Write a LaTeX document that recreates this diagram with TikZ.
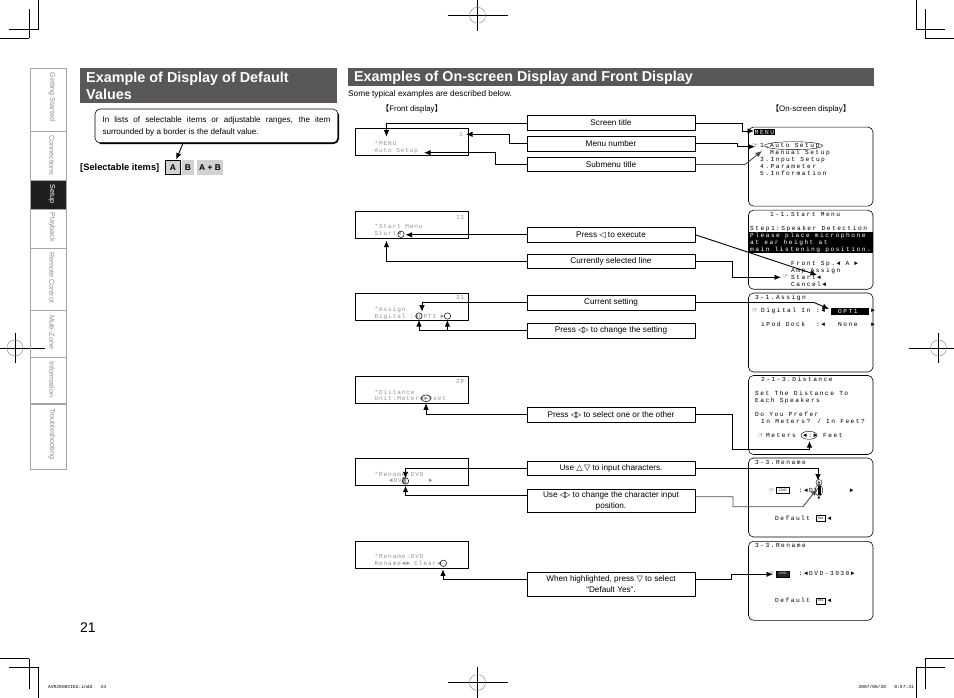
\documentclass[tikz,border=0pt]{standalone}
\usepackage{fontspec}
\setmainfont{Liberation Sans}
\newfontfamily\scrfam[LetterSpace=24]{Liberation Mono}
\newfontfamily\frontfam[LetterSpace=14]{Liberation Mono}
\newfontfamily\plainfam{Liberation Mono}
\newfontfamily\symfam{DejaVu Sans}
\newfontfamily\cjkfam{Noto Sans CJK JP}
\usetikzlibrary{positioning,calc,arrows.meta}
\definecolor{titlegray}{HTML}{595757}
\definecolor{tabgray}{HTML}{A5A5A5}
\definecolor{tabtext}{HTML}{8C8C8C}
\definecolor{itemgray}{HTML}{D2D2D2}
\newcommand{\scrfont}{\scrfam\fontsize{6.2}{6.5}\selectfont}
\newcommand{\frontfont}{\frontfam\fontsize{6.1}{6.5}\selectfont}
\newcommand{\triL}{{\symfam ◁}}
\newcommand{\triLR}{{\symfam ◁\kern-.25em▷}}
\newcommand{\hand}{{\symfam\bfseries ☞}}
\tikzset{
  callbox/.style={draw,line width=.8pt,minimum width=168pt,align=center,inner sep=0pt,font=\fontsize{8.2}{11}\selectfont},
  dispbox/.style={draw,line width=.8pt,minimum width=113.5pt,minimum height=27pt,inner sep=0pt},
  screenbox/.style={draw,line width=.6pt,rounded corners=5pt,minimum width=124.5pt,minimum height=79pt,inner sep=0pt},
  scrtxt/.style={anchor=west,inner sep=0pt,font=\scrfont,text height=4pt,text depth=0pt},
  fronttxt/.style={anchor=west,inner sep=0pt,font=\frontfont,text=gray!85,text height=4pt,text depth=0pt},
  conn/.style={line width=.9pt,-{Latex[length=6.5pt,width=5.5pt]}},
  crop/.style={line width=.8pt},
  cropthin/.style={line width=.4pt},
  ring/.style={line width=.4pt,draw=gray},
  itembox/.style={fill=itemgray,inner sep=0pt,minimum height=14.7pt,font=\bfseries\fontsize{8.4}{9}\selectfont},
  tabtxt/.style={rotate=-90,anchor=west,inner sep=0pt,font=\fontsize{7.2}{8}\selectfont},
  tagbox/.style={draw,line width=.4pt,inner sep=0pt,minimum width=13pt,minimum height=6pt,font=\fontsize{3.5}{4}\selectfont}
}
\begin{document}
\begin{tikzpicture}[x=1pt,y=-1pt]
    \useasboundingbox (0,0) rectangle (954,698);
    % crop marks
    \draw[crop] (38,0) -- (38,29.3) -- (9,29.3);
    \draw[cropthin] (29,9) -- (29,38.3);
    \draw[crop] (0,38.3) -- (29,38.3);
    \draw[crop] (916,0) -- (916,29.3) -- (945,29.3);
    \draw[cropthin] (925,9) -- (925,38.3);
    \draw[crop] (925,38.3) -- (954,38.3);
    \draw[crop] (0,658.7) -- (29,658.7);
    \draw[cropthin] (29,658.7) -- (29,688.7);
    \draw[crop] (9,667.7) -- (38,667.7) -- (38,698);
    \draw[crop] (925,658.7) -- (954,658.7);
    \draw[cropthin] (925,658.7) -- (925,688.7);
    \draw[crop] (945,667.7) -- (916,667.7) -- (916,698);
    \foreach \x/\y in {477.5/15.3,477.5/682.5,15/348,938.5/348}{
        \draw[crop] (\x-30,\y) -- (\x+30,\y);
        \draw[crop] (\x,\y-15.3) -- (\x,\y+15.3);
        \draw[ring] (\x,\y) circle (8);
    }
    \node[anchor=west,inner sep=0pt,font=\plainfam\fontsize{4.6}{5}\selectfont] (fileinfo) at (48,687) {AVR2808CIEU.indd\ \ \ 24};
    \node[anchor=east,inner sep=0pt,font=\plainfam\fontsize{4.6}{5}\selectfont] (dateinfo) at (914,687) {2007/06/20\ \ \ 8:57:41};

    % side tabs
    \fill[black!88] (30,180) rectangle (66,209);
    \draw[tabgray,line width=.8pt] (30,68) rectangle (66,469);
    \foreach \y in {131,180,209,248,310,357}{
        \draw[tabgray,line width=.8pt] (30,\y) -- (66,\y);
    }
    \draw[tabgray,line width=1.6pt] (30,404) -- (66,404);
    \foreach \n/\y/\t in {a/72.5/Getting Started,b/135/Connections,d/212.5/Playback,e/252/Remote Control,f/315/Multi-Zone,g/361/Information,h/408/Troubleshooting}{
        \node[tabtxt,text=tabtext] (tab\n) at (52,\y) {\t};
    }
    \node[tabtxt,text=white] (tabc) at (52,184) {Setup};

    % titles
    \fill[titlegray] (80,68) rectangle (337,103);
    \fill[titlegray] (348,68) rectangle (874,86);
    \node[anchor=north west,inner sep=0pt,text=white,align=left,font=\bfseries\fontsize{14.4}{17}\selectfont] (titleL) at (86,71.5) {Example of Display of Default\\Values};
    \node[anchor=west,inner sep=0pt,text=white,font=\bfseries\fontsize{14.3}{17}\selectfont] (titleR) at (354,77.5) {Examples of On-screen Display and Front Display};
    \node[anchor=west,inner sep=0pt,font=\fontsize{8.3}{9}\selectfont] (intro) at (348,94.5) {Some typical examples are described below.};
    \node[inner sep=0pt,font=\fontsize{7.9}{9}\selectfont] (headF) at (412,109) {{\cjkfam【}Front display{\cjkfam】}};
    \node[inner sep=0pt,font=\fontsize{7.9}{9}\selectfont] (headS) at (811,109) {{\cjkfam【}On-screen display{\cjkfam】}};

    % default value note
    \node[draw,line width=.6pt,rounded corners=5pt,minimum width=243pt,minimum height=34pt,inner sep=0pt,text width=228pt,align=justify,font=\fontsize{8.1}{12}\selectfont] (note) at (216.5,126) {In lists of selectable items or adjustable ranges, the item\linebreak surrounded by a border is the default value.};
    \draw[line width=1.6pt,rounded corners=5pt] ($(note.north east)+(0,5)$) |- ($(note.south west)+(5,0)$);
    \node[anchor=west,inner sep=0pt,font=\bfseries\fontsize{9.3}{10}\selectfont] (selitems) at (80,167.6) {[Selectable items]};
    \node[itembox,draw,line width=.8pt,minimum width=14.6pt] (itemA) at (173,167.3) {A};
    \node[itembox,minimum width=12.3pt] (itemB) at (187.8,167.3) {B};
    \node[itembox,minimum width=25.4pt] (itemAB) at (210,167.3) {A + B};
    \coordinate (noteout) at (182.7,144);
    \draw[conn] (noteout) -- (itemA);
    \node[inner sep=0pt,anchor=west,font=\fontsize{14}{15}\selectfont] (pagenum) at (80,628) {21};

    % front display panels
    \foreach \n/\y in {a/141.8,b/224.6,c/306.8,d/390.2,e/471.8,f/555.2}{
        \node[dispbox] (disp\n) at (412,\y) {};
    }
    % on-screen panels
    \foreach \n/\y in {a/166.6,b/249.7,c/332.5,d/415,e/497.5,f/580.8}{
        \node[screenbox] (scr\n) at (810.7,\y) {};
    }

    % front display text
    \foreach \n/\x/\y/\t in {
        a/374.5/143.3/*MENU,aa/374.5/150.7/Auto Setup,an/459/134.3/1,
        b/374.5/226.7/*Start Menu,bb/374.5/233.8/Start◄,bn/456/217.7/11,
        c/374.5/309.5/*Assign,cc/374.5/316/Digital :◄OPT1 ►,cn/456/297.7/31,
        d/374.5/392.2/*Distance,dd/374.5/398.6/Unit:Meter◄►Feet,dn/456/381/2P,
        e/374.5/474.3/*Rename:DVD,ee/389/480.7/◄DV█\ \ \ \ \ ►,
        f/374.5/556.7/*Rename:DVD,ff/374.5/563.3/Rename◄► Clear◄}{
        \node[fronttxt] (front\n) at (\x,\y) {\t};
    }
    \foreach \x/\y in {401/234.3,419/316,447.5/316,405.5/481,443.4/563.3}{
        \draw[line width=.5pt] (\x,\y) circle (3.2);
    }
    \draw[line width=.5pt] (426,398.3) ellipse (5 and 3.4);

    % on-screen text
    \foreach \n/\x/\y/\t in {
        a/760/145.7/1.,aa/770/145.7/Auto Setup,ab/770/152.7/Manual Setup,ac/760/159.7/3.Input Setup,ad/760/166.7/4.Parameter,ae/760/173.7/5.Information,
        b/770/215/1-1.Start Menu,ba/750/228.3/Step1:Speaker Detection,bb/791/263.3/Front Sp.◄ A ►,bc/791/270/Amp Assign,bd/791/277/Start◄,be/791/284/Cancel◄,
        c/755/297.7/3-1.Assign,ca/761/310.7/Digital In,cb/816/310.7/:◄,cc/871/310.7/►,cd/761/324.7/iPod Dock,ce/816/324.7/:◄,cf/838/324.7/None,cg/871/324.7/►,
        d/761/379.7/2-1-3.Distance,da/755/393.7/Set The Distance To,db/755/400.7/Each Speakers,dc/755/414.3/Do You Prefer,dd/761/421.3/{In Meters? / In Feet?},de/766/435.3/Meters,df/803/435.3/◄:►,dg/823/435.3/Feet,
        e/755/462.3/3-3.Rename,ea/798.6/490.3/:◄DV,eb/849.7/490.3/►,ec/775/518.3/Default,ed/827.5/518.3/◄,
        f/755/545.7/3-3.Rename,fa/798.6/573.7/:◄DVD-3930►,fb/775/600.7/Default,fc/827.5/600.7/◄}{
        \node[scrtxt] (line\n) at (\x,\y) {\t};
    }
    \node[fill=black,text=white,scrtxt,text height=5pt,inner sep=.6pt] (menutag) at (754,131.7) {MENU};
    \draw[line width=.4pt] (793.5,145.7) ellipse (29 and 4);
    \fill[black] (749,232.3) rectangle (872.5,253.3);
    \foreach \n/\y/\t in {a/235.7/Please place microphone,b/242.7/at ear height at,c/249.7/main listening position.}{
        \node[scrtxt,text=white] (band\n) at (750,\y) {\t};
    }
    \fill[black] (831,307.7) rectangle (869,315);
    \node[scrtxt,text=white] (opttag) at (838,311) {OPT1};
    \draw[line width=.4pt] (809,435.3) ellipse (8 and 4);
    \fill[black] (817.5,486) rectangle (820.5,494.5);
    \draw[line width=.4pt] (819,490.3) ellipse (3.6 and 6);
    \draw[line width=.4pt] (819,482.5) circle (3);
    \node[inner sep=0pt,font=\symfam\fontsize{3.5}{4}\selectfont] (chup) at (819,482.5) {▲};
    \node[inner sep=0pt,font=\symfam\fontsize{3.5}{4}\selectfont] (chdown) at (819,498.3) {▼};
    \node[tagbox] (dvdtag) at (783,490.3) {DVD};
    \node[tagbox,fill=black!85,text=white] (dvdtagb) at (783,573.7) {DVD};
    \node[tagbox,minimum width=9pt] (yestag) at (820.5,518.3) {Yes};
    \node[tagbox,minimum width=9pt] (yestagb) at (820.5,600.7) {Yes};
    \foreach \n/\x/\y in {a/755/145.7,b/785.5/277,c/755/310.7,d/761/435.3,e/771.5/490.3,f/771.5/573.7}{
        \node[inner sep=0pt,font=\fontsize{6.5}{7}\selectfont] (hand\n) at (\x,\y) {\hand};
    }

    % callout boxes
    \node[callbox,minimum height=15pt] (scrtitle) at (611,123) {Screen title};
    \node[callbox,minimum height=15pt] (menunum) at (611,143.7) {Menu number};
    \node[callbox,minimum height=14.5pt] (subtitle) at (611,164.5) {Submenu title};
    \node[callbox,minimum height=15pt] (pressexec) at (611,234.8) {Press \triL\ to execute};
    \node[callbox,minimum height=14.5pt] (curline) at (611,261.5) {Currently selected line};
    \node[callbox,minimum height=15pt] (curset) at (611,302.5) {Current setting};
    \node[callbox,minimum height=15pt] (presschg) at (611,330.8) {Press \triLR\ to change the setting};
    \node[callbox,minimum height=14.7pt] (presssel) at (611,414.7) {Press \triLR\ to select one or the other};
    \node[callbox,minimum height=14.7pt] (useinput) at (611,468.3) {Use {\symfam △\,▽} to input characters.};
    \node[callbox,minimum height=23.3pt] (usepos) at (611,500.7) {Use \triLR\ to change the character input\\position.};
    \node[callbox,minimum height=23.3pt] (highlit) at (611,584.3) {When highlighted, press {\symfam ▽} to select\\“Default Yes”.};

    % connector ends
    \coordinate (fa1) at (386.5,136.7);
    \coordinate (fa2) at (466,134.3);
    \coordinate (fa3) at (424,152.7);
    \coordinate (sa1) at (754,131);
    \coordinate (sa2) at (755,146.7);
    \coordinate (sa3) at (762,151);
    \coordinate (fb1) at (405.5,234.8);
    \coordinate (fb2) at (386.5,240.7);
    \coordinate (sb1) at (817,275);
    \coordinate (sb2) at (781,277.3);
    \coordinate (fc1) at (422,311.7);
    \coordinate (fc2) at (419,320);
    \coordinate (fc3) at (447.4,320);
    \coordinate (sc1) at (829,309);
    \coordinate (fd1) at (426,403.3);
    \coordinate (sd1) at (809.5,441);
    \coordinate (fe1) at (405.5,478.3);
    \coordinate (fe2) at (405.5,485.7);
    \coordinate (se1) at (818,480.7);
    \coordinate (se2) at (817,489);
    \coordinate (ff1) at (443,569.3);
    \coordinate (sf1) at (773,574.3);

    % connectors
    \draw[conn] (scrtitle.west) -| (fa1);
    \draw[conn] (scrtitle.east) -- (742,123) -- (742,131) -- (sa1);
    \draw[conn] (menunum.west) -- (509,143.7) -- (509,134.3) -- (fa2);
    \draw[conn] (menunum.east) -- (737,143.7) -- (737,146.7) -- (sa2);
    \draw[conn] (subtitle.west) -- (495,164.5) -- (495,152.7) -- (fa3);
    \draw[conn,draw=black!70] (subtitle.east) -- (745,164.5) -- (sa3);
    \draw[conn] (pressexec.west) -- (fb1);
    \draw[conn] (pressexec.east) -- (sb1);
    \draw[conn] (curline.west) -| (fb2);
    \draw[conn] (curline.east) -- (732,261.5) -- (732,277.3) -- (sb2);
    \draw[conn] (curset.west) -| (fc1);
    \draw[conn] (curset.east) -- (814,302.5) -- (sc1);
    \draw[conn] (presschg.west) -| (fc2);
    \draw[conn] (presschg.west) -| (fc3);
    \draw[conn] (presssel.west) -| (fd1);
    \draw[conn] (presssel.east) -- (732,414.7) -- (732,449.3) -- (809.5,449.3) -- (sd1);
    \draw[conn] (useinput.west) -| (fe1);
    \draw[conn] (useinput.east) -| (se1);
    \draw[conn] ($(usepos.west)+(0,-5.7)$) -| (fe2);
    \draw[conn,draw=black!70] ($(usepos.east)+(0,-4)$) -- (733,496.7) -- (733,506.7) -- (803,506.7) -- (se2);
    \draw[conn] ($(highlit.west)+(0,-5)$) -| (ff1);
    \draw[conn] ($(highlit.east)+(0,-5)$) -- (731,579.3) -- (731,574.3) -- (sf1);
\end{tikzpicture}
\end{document}
